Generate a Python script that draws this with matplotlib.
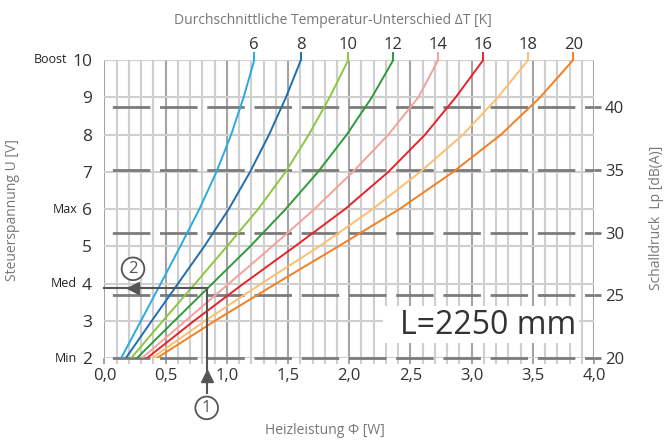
import matplotlib
import matplotlib.pyplot as plt
from matplotlib.patches import Rectangle
from matplotlib.ticker import FuncFormatter, MultipleLocator
import matplotlib.transforms as mtransforms

matplotlib.use("Agg")

voltage = [2, 3, 4, 5, 6, 7, 8, 9, 10]

# Heating power [W] for each mean temperature difference dT [K]
power_dt6 = [0.135, 0.297, 0.459, 0.619, 0.775, 0.915, 1.035, 1.137, 1.224]
power_dt8 = [0.173, 0.385, 0.60, 0.815, 1.015, 1.19, 1.345, 1.483, 1.605]
power_dt10 = [0.216, 0.476, 0.74, 1.00, 1.255, 1.48, 1.67, 1.84, 1.992]
power_dt12 = [0.263, 0.57, 0.88, 1.19, 1.48, 1.745, 1.98, 2.185, 2.36]
power_dt14 = [0.304, 0.66, 1.015, 1.37, 1.715, 2.03, 2.32, 2.565, 2.727]
power_dt16 = [0.345, 0.73, 1.135, 1.555, 1.965, 2.32, 2.62, 2.87, 3.095]
power_dt18 = [0.385, 0.82, 1.28, 1.755, 2.19, 2.58, 2.93, 3.215, 3.462]
power_dt20 = [0.426, 0.90, 1.40, 1.91, 2.41, 2.85, 3.24, 3.56, 3.83]

dt_labels = ["6", "8", "10", "12", "14", "16", "18", "20"]
dt_powers = [power_dt6, power_dt8, power_dt10, power_dt12,
             power_dt14, power_dt16, power_dt18, power_dt20]
dt_colors = ["#29abe2", "#1f6fb0", "#8dc63f", "#2e9b3a",
             "#f4a19d", "#e3242b", "#fdbf6f", "#f47f20"]

# Fan levels on the voltage axis
level_names = ["Min", "Med", "Max", "Boost"]
level_volts = [2, 4, 6, 10]

# Sound pressure axis, linear with the voltage
db_ticks = [20, 25, 30, 35, 40]
DB_AT_2V = 20.0
DB_PER_VOLT = 2.965

# Example reading: power -> voltage
example_power = 0.835
example_voltage = 3.89

GRID_LIGHT = "#cfcfcf"
GRID_DARK = "#a3a3a3"
DASH_GREY = "#7b7b7b"
TEXT_DARK = "#333333"
TEXT_GREY = "#777777"


def u_to_db(u):
    return DB_AT_2V + (u - 2) * DB_PER_VOLT


def db_to_u(db):
    return 2 + (db - DB_AT_2V) / DB_PER_VOLT


plt.rcParams["font.family"] = ["Open Sans", "DejaVu Sans"]

W, H = 666, 441
fig = plt.figure(figsize=(W / 100, H / 100), dpi=100)
ax = fig.add_axes([104.5 / W, 1 - 358.3 / H, 489.5 / W, 298.3 / H])
ax.set_xlim(0, 4)
ax.set_ylim(2, 10)
ax.set_axisbelow(True)

# Grid: 0.1 W minor, 0.5 W major, 1 V horizontal
ax.xaxis.set_major_locator(MultipleLocator(0.5))
ax.xaxis.set_minor_locator(MultipleLocator(0.1))
ax.yaxis.set_major_locator(MultipleLocator(1))
ax.grid(axis="x", which="minor", color=GRID_LIGHT, lw=1.5)
ax.grid(axis="x", which="major", color=GRID_DARK, lw=1.5)
ax.grid(axis="y", which="major", color=GRID_LIGHT, lw=1.5)

for side in ["top", "bottom", "left", "right"]:
    ax.spines[side].set_visible(False)

ax.xaxis.set_major_formatter(FuncFormatter(lambda v, _: f"{v:.1f}".replace(".", ",")))
ax.tick_params(axis="x", which="major", length=4, width=1.5, color=GRID_DARK,
               labelsize=12, labelcolor=TEXT_DARK, pad=3)
ax.tick_params(axis="x", which="minor", length=4, width=1.5, color=GRID_LIGHT)
ax.tick_params(axis="y", length=0, pad=9, labelsize=12.5, labelcolor=TEXT_DARK)

# Dashed sound pressure lines
for db in db_ticks:
    ax.axhline(db_to_u(db), color=DASH_GREY, lw=2,
               linestyle=(14, (13.5, 3.5)), zorder=2, clip_on=False)

sec = ax.secondary_yaxis("right", functions=(u_to_db, db_to_u))
sec.set_yticks(db_ticks)
sec.spines["right"].set_visible(False)
sec.tick_params(length=5, width=2, color=DASH_GREY, pad=3,
                labelsize=12, labelcolor=TEXT_DARK)

# Curves
for label, power, color in zip(dt_labels, dt_powers, dt_colors):
    ax.plot(power, voltage, color=color, lw=1.4, zorder=4)
    ax.plot([power[-1], power[-1]], [10, 10.2], color=color, lw=1.4,
            zorder=4, clip_on=False)
    ax.text(power[-1], 10.4, label, ha="center", va="center",
            fontsize=12, color=TEXT_DARK)

# Length label with white background
ax.add_patch(Rectangle((2.275, 2.41), 1.6, 0.99, fc="white", ec="none", zorder=3))
ax.text(3.135, 2.88, "L=2250 mm", ha="center", va="center",
        fontsize=23, color=TEXT_DARK, zorder=5)

# Example reading arrows
arrow_color = "#555555"
ax.plot([example_power, example_power], [1.08, example_voltage], color=arrow_color,
        lw=1.5, zorder=5, clip_on=False)
ax.plot([0, example_power], [example_voltage, example_voltage], color=arrow_color,
        lw=1.5, zorder=5, clip_on=False)
ax.plot(example_power, 1.52, marker="^", ms=8, color=arrow_color, zorder=6, clip_on=False)
ax.plot(0.233, example_voltage, marker="<", ms=8, color=arrow_color, zorder=6)
circle = dict(boxstyle="circle,pad=0.2", fc="white", ec=arrow_color, lw=1.3)
ax.text(example_power, 0.67, "1", ha="center", va="center", fontsize=12,
        color=arrow_color, bbox=circle, zorder=6, clip_on=False)
ax.text(0.233, 4.4, "2", ha="center", va="center", fontsize=12,
        color=arrow_color, bbox=circle, zorder=6)

# Level names left of the voltage ticks
blend = mtransforms.blended_transform_factory(fig.transFigure, ax.transData)
for name, volt in zip(level_names, level_volts):
    x_px = 67 if name == "Boost" else 77
    ax.text(x_px / W, volt, name, transform=blend, ha="right", va="center",
            fontsize=9, color="#222222")

# Axis titles
fig.text(333 / W, 1 - 20 / H, "Durchschnittliche Temperatur-Unterschied ΔT [K]",
         ha="center", va="center", fontsize=10, color=TEXT_GREY)
fig.text(325 / W, 1 - 430 / H, "Heizleistung Φ [W]",
         ha="center", va="center", fontsize=10, color=TEXT_GREY)
fig.text(13 / W, 1 - 210 / H, "Steuerspannung U [V]", rotation=90,
         ha="center", va="center", fontsize=10, color=TEXT_GREY)
fig.text(656 / W, 1 - 218 / H, "Schalldruck  Lp [dB(A)]", rotation=90,
         ha="center", va="center", fontsize=10, color=TEXT_GREY)

fig.savefig("out.png", dpi=100)
